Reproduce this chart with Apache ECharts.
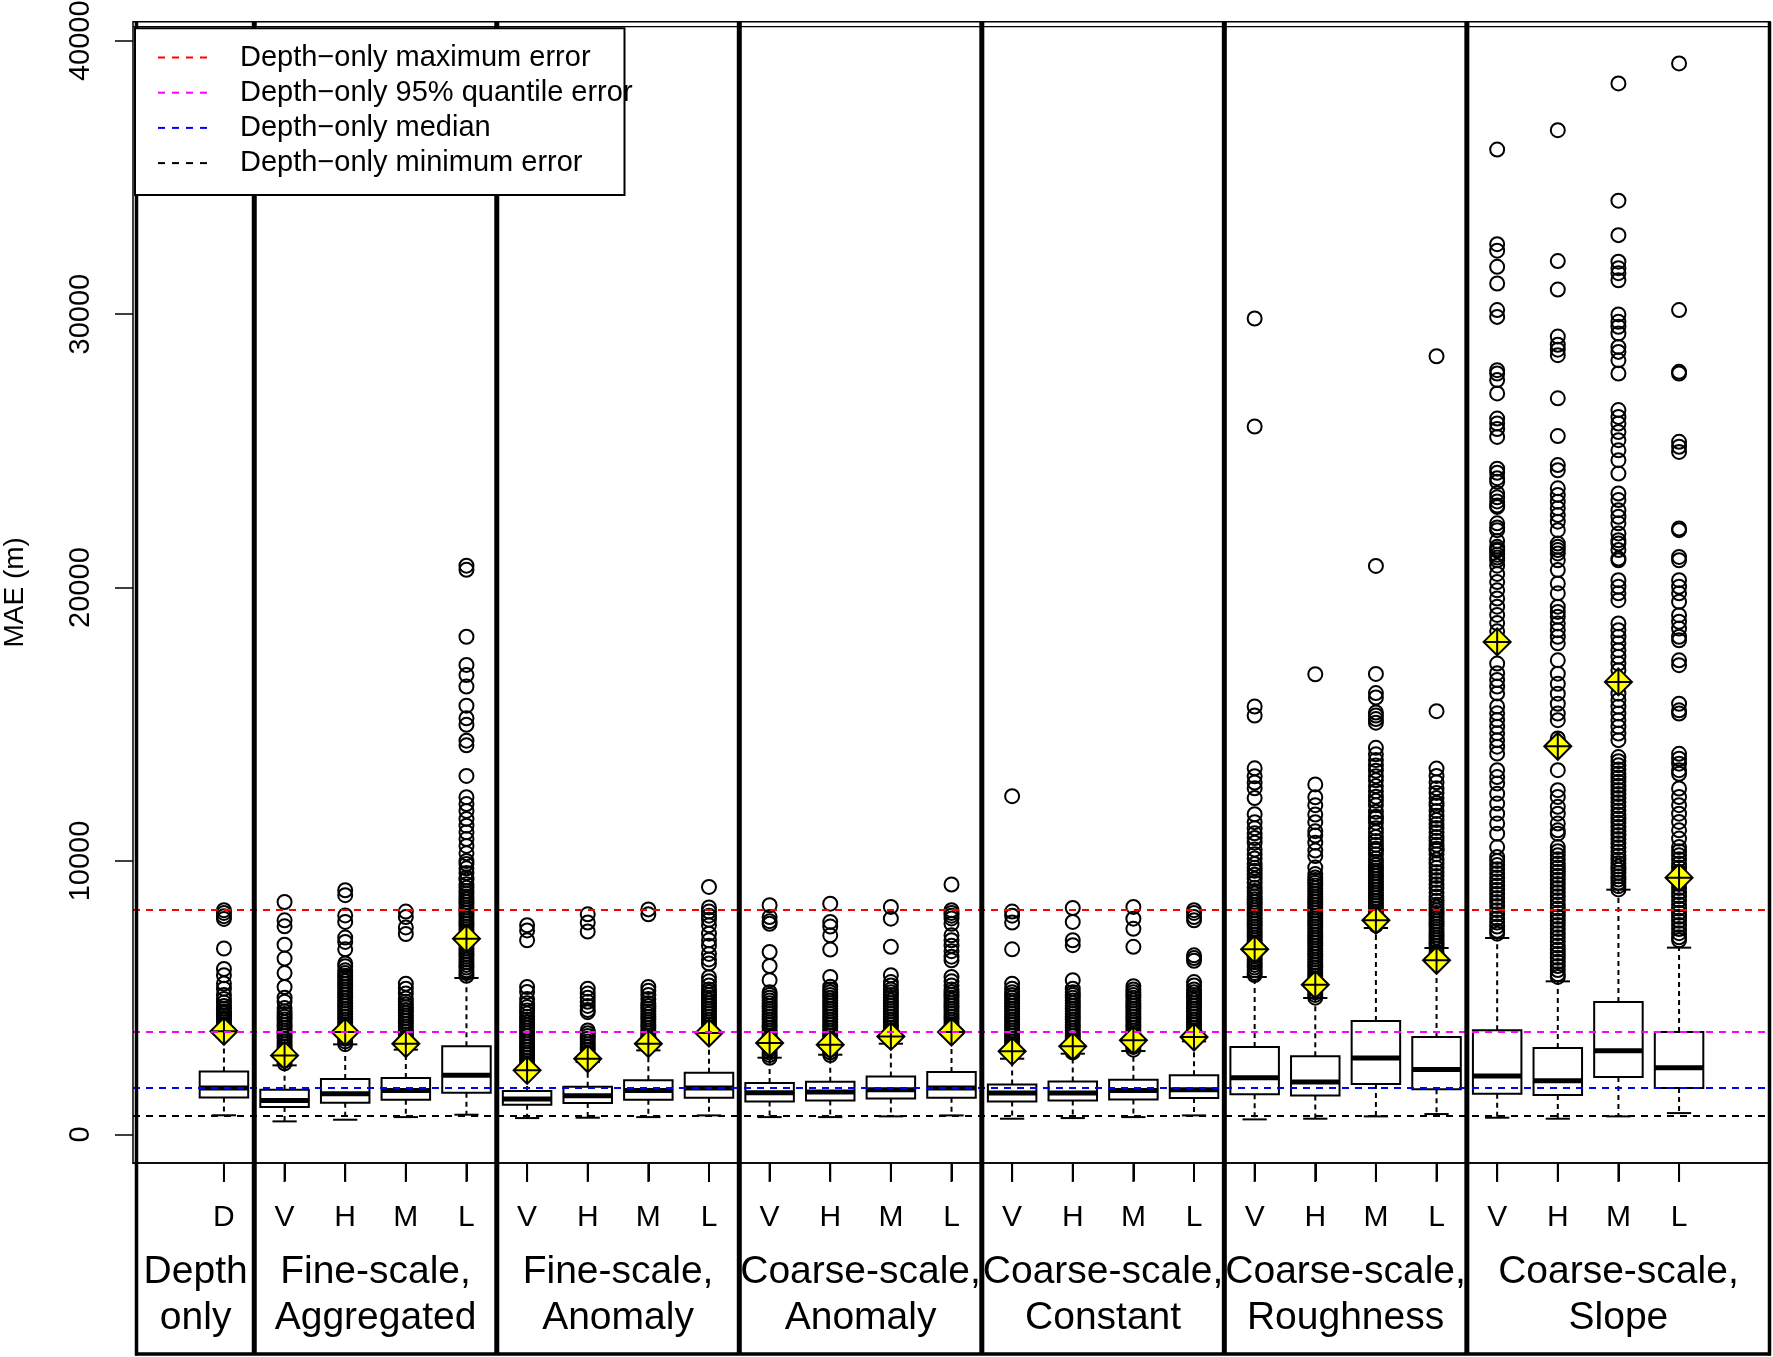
<!DOCTYPE html>
<html><head><meta charset="utf-8">
<script src="https://cdn.jsdelivr.net/npm/echarts@6/dist/echarts.min.js"></script>
<style>html,body{margin:0;padding:0;background:#fff}#c{width:1773px;height:1357px}</style>
</head><body><div id="c"></div>
<script>
// ---------- DATA ----------
const tickLabels = ['D', 'V','H','M','L', 'V','H','M','L', 'V','H','M','L', 'V','H','M','L', 'V','H','M','L', 'V','H','M','L'];
const groupLabels = [['Depth','only'], ['Fine-scale,','Aggregated'], ['Fine-scale,','Anomaly'], ['Coarse-scale,','Anomaly'], ['Coarse-scale,','Constant'], ['Coarse-scale,','Roughness'], ['Coarse-scale,','Slope']];
const groupSizes = [1,4,4,4,4,4,4];
const yTicks = [0,10000,20000,30000,40000];
const refNames = ['Depth\u2212only maximum error','Depth\u2212only 95% quantile error','Depth\u2212only median','Depth\u2212only minimum error'];
const refValues = [8200, 3770, 1700, 700];

const whiskerLow  = [700,476,537,633,720, 597,610,633,695, 633,633,659,695, 574,597,633,695, 549,574,659,744, 610,574,659,780];
const q1          = [1354,999,1160,1270,1525, 1086,1146,1270,1342, 1207,1244,1317,1342, 1207,1244,1281,1330, 1464,1427,1841,1647, 1488,1439,2098,1695];
const median      = [1700,1244,1489,1610,2159, 1293,1415,1610,1695, 1525,1549,1634,1695, 1512,1512,1610,1634, 2074,1915,2793,2378, 2135,1964,3061,2440];
const q3          = [2305,1634,2024,2060,3220, 1586,1744,1976,2257, 1878,1928,2122,2279, 1829,1939,2000,2159, 3195,2854,4146,3561, 3805,3159,4842,3744];
const whiskerHigh = [3720,2525,3293,3100,5720, 2300,2646,3073,3683, 2805,2914,3317,3683, 2768,2952,3049,3402, 5757,4988,7549,6818, 7184,5598,8950,6830];
const q95         = [3770,2890,3743,3318,7160, 2342,2768,3317,3707, 3341,3282,3585,3744, 3037,3220,3439,3561, 6769,5476,7830,6367, 18013,14197,16550,9390];

const outliers = [
 [8200,8100,7980,7880,6800,6050,5820,5520,5330,5100,4950,4820,4700,4600,4500,4420,4340,4260,4180,4100,4020,3950,3880,3820,3770],
 [8500,7830,7610,6940,6430,5900,5390,5000,4850,4620,4500,4400,4300,4200,4100,4000,3900,3800,3700,3600,3500,3400,3300,3200,3100,3000,2900,2800,2700,2600],
 [8930,8750,8010,7770,7200,7040,6770,6250,6150,6000,5900,5800,5700,5600,5500,5400,5300,5200,5100,5000,4900,4800,4700,4600,4500,4400,4300,4200,4100,4000,3900,3800,3700,3600,3500,3400,3300],
 [8150,7950,7570,7330,5510,5330,5150,4970,4850,4750,4650,4550,4450,4350,4250,4150,4050,3950,3850,3750,3650,3550,3450,3350],
 [20800,20650,18200,17170,16800,16380,15680,15220,14980,14400,14230,13110,12330,12080,11830,11540,11290,11050,10800,10550,10280,10000,9890,9730,9560,9400,9310,9150,9020,8900,8800,8700,8600,8500,8400,8300,8200,8100,8000,7900,7800,7700,7600,7500,7400,7300,7200,7100,7000,6900,6800,6700,6600,6500,6400,6300,6200,6100,6000,5900,5800],
 [7650,7460,7100,5390,5210,4950,4800,4660,4530,4420,4300,4200,4100,4000,3900,3800,3700,3600,3500,3400,3300,3200,3100,3000,2900,2800,2700,2600,2500,2400],
 [8050,7750,7420,5330,5150,5000,4850,4700,4550,4470,3800,3700,3600,3500,3400,3300,3200,3100,3000,2900,2830],
 [8230,8050,5390,5250,5100,4950,4800,4700,4600,4500,4400,4300,4200,4100,4000,3900,3800,3700,3600,3500,3400,3300,3200],
 [9050,8300,8150,8000,7850,7650,7340,7100,6900,6600,6400,6250,5750,5600,5450,5300,5200,5100,5000,4900,4800,4700,4600,4500,4400,4300,4200,4100,4000,3900,3800],
 [8380,7950,7800,7700,6670,6160,5640,5200,5100,5000,4900,4800,4700,4600,4500,4400,4300,4200,4100,4000,3900,3800,3700,3600,3500,3400,3300,3200,3100,3000,2900,2800],
 [8440,7770,7600,7280,6760,5760,5400,5300,5200,5100,5000,4900,4800,4700,4600,4500,4400,4300,4200,4100,4000,3900,3800,3700,3600,3500,3400,3300,3200,3100,3000,2900],
 [8320,7890,6860,5820,5570,5450,5300,5200,5100,5000,4900,4800,4700,4600,4500,4400,4300,4200,4100,4000,3900,3800,3700,3600,3500,3440],
 [9140,8200,8100,8000,7900,7700,7280,7100,6900,6700,6500,6370,5760,5600,5450,5300,5200,5100,5000,4900,4800,4700,4600,4500,4400,4300,4200,4100,4000,3900,3870],
 [12370,8150,8000,7750,6770,5510,5330,5200,5100,5000,4900,4800,4700,4600,4500,4400,4300,4200,4100,4000,3900,3800,3700,3600,3500,3400,3300,3200,3100,3000,2950],
 [8280,7770,7100,6920,5640,5330,5200,5100,5000,4900,4800,4700,4600,4500,4400,4300,4200,4100,4000,3900,3800,3700,3600,3500,3400,3300,3200,3100,3000],
 [8320,7890,7520,6860,5420,5300,5200,5100,5000,4900,4800,4700,4600,4500,4400,4300,4200,4100,4000,3900,3800,3700,3600,3500,3400,3300,3200,3100],
 [8200,8100,7950,7830,6550,6450,6350,5570,5450,5300,5200,5100,5000,4900,4800,4700,4600,4500,4400,4300,4200,4100,4000,3900,3800,3700,3600],
 [29840,25890,15650,15320,13390,13100,12870,12660,12300,11710,11420,11200,11010,10840,10670,10420,10250,10090,9890,9750,9640,9500,9350,9200,9020,8900,8810,8700,8600,8500,8400,8300,8200,8100,8000,7900,7800,7700,7600,7500,7400,7300,7200,7100,7000,6900,6800,6700,6600,6500,6400,6300,6200,6100,6000,5900,5830],
 [16830,12800,12330,12040,11700,11420,11090,10930,10670,10380,10180,9760,9520,9400,9300,9200,9100,9000,8900,8800,8700,8600,8500,8400,8300,8200,8100,8000,7900,7800,7700,7600,7500,7400,7300,7200,7100,7000,6900,6800,6700,6600,6500,6400,6300,6200,6100,6000,5900,5800,5700,5600,5500,5400,5300,5200,5100,5000],
 [20790,16840,16140,15980,15430,15320,15190,15060,14140,13900,13690,13490,13300,13100,12950,12740,12550,12350,12200,12040,11800,11620,11560,11400,11200,11050,10880,10730,10590,10450,10380,10250,10090,9970,9850,9750,9650,9550,9450,9350,9250,9150,9050,8950,8850,8750,8650,8550,8450,8350,8250,8150,8050,7950,7850,7750,7650],
 [28460,15480,13380,13110,12880,12660,12490,12300,12120,12030,11830,11650,11500,11350,11210,11050,10880,10740,10590,10450,10380,10250,10050,9900,9750,9600,9450,9300,9150,9010,8850,8700,8550,8400,8300,8200,8100,8000,7900,7800,7700,7600,7500,7400,7300,7200,7100,7000,6900,6800,6660],
 [36020,32560,32320,31730,31120,30150,29900,27950,27830,27590,27100,26180,26000,25800,25510,24350,24200,24000,23870,23450,23300,23150,23000,22950,22350,22200,22100,21490,21350,21200,21000,21700,21400,21100,20800,20500,20200,19900,19600,19300,19000,18700,18400,18100,17220,16870,16620,16380,16130,15650,15400,15160,14910,14670,14420,14180,13930,13320,13070,12830,12460,12100,11730,11370,11000,10510,10150,10000,9850,9700,9550,9400,9250,9100,8950,8800,8650,8500,8350,8200,8050,7900,7750,7600,7450,7340],
 [36730,31940,30900,29180,28880,28700,28500,26920,25540,24480,24290,23630,23390,23140,22900,22650,22410,22100,21490,21250,21000,21610,21370,20640,20150,19790,19300,19110,18930,18690,18440,18200,17960,17340,16850,16480,16120,15750,15390,15150,14480,13320,12590,12340,11980,11730,11370,11120,11000,10510,10360,10210,10060,9910,9760,9610,9460,9310,9160,9010,8860,8710,8560,8410,8260,8110,7960,7810,7660,7510,7360,7210,7060,6910,6760,6610,6460,6310,6160,6010,5860,5760],
 [38440,34150,32890,31920,31680,31500,31240,29990,29720,29540,29290,28800,28620,28310,27830,26490,26240,26000,25690,25390,25020,24660,24170,23440,23200,22830,22590,22350,21980,21730,21370,21000,21610,21060,20270,20030,19790,19540,18690,18440,18200,17960,17710,17470,17220,16980,16120,15880,15640,15390,15150,14910,14660,14420,13800,13650,13500,13350,13200,13050,12900,12750,12600,12450,12300,12150,12000,11850,11700,11550,11400,11250,11100,10950,10800,10650,10500,10350,10200,10050,9920,9800,9680,9560,9440,9320,9200,9080,8960],
 [39170,30150,27890,27830,25330,25150,24960,22160,22100,21120,21000,20270,20030,19790,19480,18990,18750,18500,18200,18070,17340,17160,15750,15510,15390,13920,13740,13560,13320,13190,12650,12340,12040,11730,11430,11120,10820,10510,10360,10210,10060,9910,9760,9610,9460,9310,9160,9010,8860,8710,8560,8410,8260,8110,7960,7810,7660,7510,7360,7210,7100]
];

// ---------- CHART ----------
const FONT = 'Liberation Sans';
const refColors = ['#FF0000','#FF00FF','#0000FF','#000000'];
const G = {left:133, right:1770, top:21.7, bottom:1163, panelBottom:1354};
const positions = tickLabels.map((_, k) => k + 1);

const boxData = whiskerLow.map((_, k) => [positions[k], whiskerLow[k], q1[k], median[k], q3[k], whiskerHigh[k]]);
const outlierData = [];
outliers.forEach((arr, k) => arr.forEach(v => outlierData.push([positions[k], v])));
const meanData = q95.map((v, k) => [positions[k], v]);

function renderBox(params, api) {
  const x = api.value(0);
  const c = v => api.coord([x, v]);
  const bw = api.size([1, 0])[0] * 0.8;
  const cw = bw * 0.5;
  const pl = c(api.value(1)), p1 = c(api.value(2)), pm = c(api.value(3)), p3 = c(api.value(4)), ph = c(api.value(5));
  const cx = pm[0];
  const dash = {stroke:'#000', lineWidth:2, lineDash:[5,4], fill:null};
  const solid = {stroke:'#000', lineWidth:2, fill:null};
  return {type:'group', children:[
    {type:'line', shape:{x1:cx,y1:p3[1],x2:cx,y2:ph[1]}, style:dash},
    {type:'line', shape:{x1:cx,y1:p1[1],x2:cx,y2:pl[1]}, style:dash},
    {type:'line', shape:{x1:cx-cw/2,y1:ph[1],x2:cx+cw/2,y2:ph[1]}, style:solid},
    {type:'line', shape:{x1:cx-cw/2,y1:pl[1],x2:cx+cw/2,y2:pl[1]}, style:solid},
    {type:'rect', shape:{x:cx-bw/2,y:p3[1],width:bw,height:p1[1]-p3[1]}, style:{fill:'#fff',stroke:'#000',lineWidth:2}},
    {type:'line', shape:{x1:cx-bw/2,y1:pm[1],x2:cx+bw/2,y2:pm[1]}, style:{stroke:'#000',lineWidth:5}}
  ]};
}

const chart = echarts.init(document.getElementById('c'), null, {renderer:'canvas'});
const option = {
  animation:false,
  backgroundColor:'#fff',
  textStyle:{fontFamily:FONT, color:'#000'},
  grid:{left:G.left, right:1773-G.right, top:G.top, bottom:1357-G.bottom, containLabel:false, outerBoundsMode:'none', show:false},
  legend:{
    orient:'vertical', left:157, top:43, itemWidth:53, itemHeight:14, itemGap:6.2, padding:0, z:10,
    data:refNames,
    itemStyle:{color:'rgba(0,0,0,0)', borderWidth:0, opacity:0},
    textStyle:{fontSize:29, color:'#000', fontFamily:FONT, padding:[0,0,0,24]}
  },
  xAxis:{
    type:'value', min:-0.5, max:26.5,
    axisLine:{show:true, onZero:false, lineStyle:{color:'#000', width:1.5}},
    axisTick:{show:true, customValues:positions, length:18, inside:false, lineStyle:{color:'#000', width:2}},
    axisLabel:{customValues:positions, formatter:(v)=>tickLabels[Math.round(v) - 1] || '', margin:40, fontSize:30, color:'#000', fontFamily:FONT},
    splitLine:{show:false}
  },
  yAxis:{
    type:'value', min:-1046, max:40696,
    name:'MAE (m)', nameLocation:'middle', nameGap:104, nameRotate:90,
    nameTextStyle:{fontSize:28, color:'#000', fontFamily:FONT},
    axisLine:{show:false, onZero:false},
    axisTick:{show:true, length:18, customValues:yTicks, lineStyle:{color:'#000', width:1.5}},
    axisLabel:{customValues:yTicks, formatter:(v)=>String(v), rotate:90, margin:38, fontSize:29, color:'#000', fontFamily:FONT, align:'center', verticalAlign:'bottom'},
    splitLine:{show:false}
  },
  series:[
    {type:'custom', name:'box', renderItem:renderBox, data:boxData, encode:{x:0, y:[1,2,3,4,5]}, z:2, silent:true},
    {type:'scatter', name:'outliers', data:outlierData, symbol:'circle', symbolSize:14, z:3, silent:true,
      itemStyle:{color:'rgba(0,0,0,0)', borderColor:'#000', borderWidth:2, opacity:1}},
    {type:'scatter', name:'q95', data:meanData, symbol:'path://M12 0 L24 12 L12 24 L0 12 Z M12 0 L12 24 M0 12 L24 12', symbolSize:27, z:4, silent:true,
      itemStyle:{color:'#FFFF00', borderColor:'#000', borderWidth:2, opacity:1}},
  ].concat(refNames.map((n, i) => ({
    type:'line', name:n, data:[], symbol:'none', showSymbol:false, z:5, silent:true,
    itemStyle:{color:refColors[i]},
    lineStyle:{color:refColors[i], type:[7,7], width:1.8},
    markLine:{symbol:'none', silent:true, label:{show:false}, animation:false,
      lineStyle:{color:refColors[i], type:[7,6], width:2},
      data:[{yAxis:refValues[i]}]}
  })))
};
chart.setOption(option);

// structural frame: plot box, separators, tick marks, legend box, group labels
const px = v => chart.convertToPixel({xAxisIndex:0}, v);
const edges = [137];
let acc = 0;
groupSizes.forEach((s, g) => { acc += s; if (g < groupSizes.length - 1) edges.push(px(acc + 0.5)); });
edges.push(G.right);
const els = [];
els.push({type:'rect', z:6, shape:{x:G.left, y:G.top, width:G.right - G.left, height:G.bottom - G.top}, style:{fill:null, stroke:'#000', lineWidth:1.5}});
positions.forEach(p => { const x = px(p); els.push({type:'rect', z:20, shape:{x:x - 1, y:G.bottom + 1, width:2, height:18}, style:{fill:'#000', stroke:null}}); });
edges.slice(1, -1).forEach(x => els.push({type:'line', z:6, shape:{x1:x, y1:G.top, x2:x, y2:G.panelBottom}, style:{stroke:'#000', lineWidth:5}}));
els.push({type:'line', z:6, shape:{x1:136.5, y1:G.top, x2:136.5, y2:G.panelBottom+1.5}, style:{stroke:'#000', lineWidth:3.5}});
els.push({type:'line', z:6, shape:{x1:G.right-0.5, y1:G.top, x2:G.right-0.5, y2:G.panelBottom+1.5}, style:{stroke:'#000', lineWidth:3.5}});
els.push({type:'line', z:6, shape:{x1:135, y1:G.panelBottom, x2:G.right+1, y2:G.panelBottom}, style:{stroke:'#000', lineWidth:3.5}});
els.push({type:'line', z:6, shape:{x1:G.left, y1:26.7, x2:G.right, y2:26.7}, style:{stroke:'#000', lineWidth:1.2}});
els.push({type:'rect', z:7, shape:{x:135, y:28.3, width:489.5, height:166.7}, style:{fill:'#fff', stroke:'#000', lineWidth:2}});
groupLabels.forEach((lines, g) => {
  const cx = (edges[g] + edges[g + 1]) / 2;
  lines.forEach((t, j) => els.push({type:'text', z:8, x:cx, y:j === 0 ? 1272 : 1318,
    style:{text:t, fontSize:39, fontFamily:FONT, fill:'#000', align:'center', verticalAlign:'middle'}}));
});
chart.setOption({graphic:{elements:els}});
</script></body></html>
